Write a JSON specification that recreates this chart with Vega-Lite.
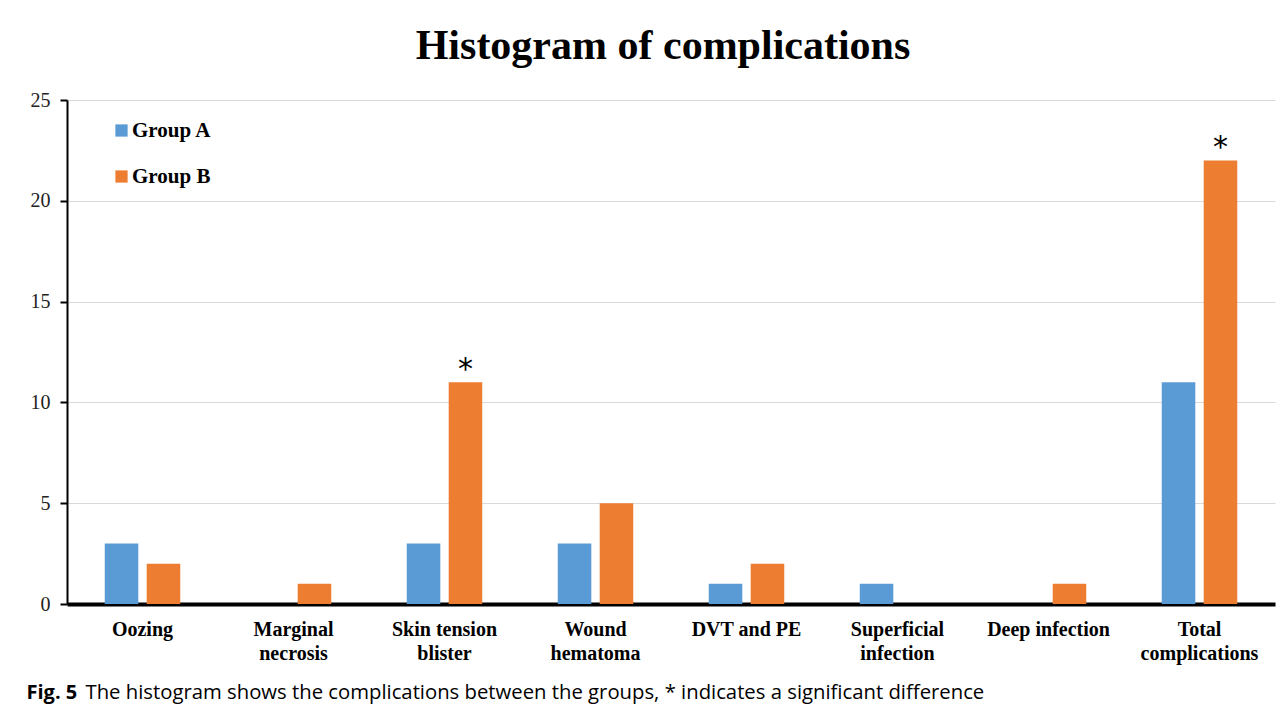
{
  "$schema": "https://vega.github.io/schema/vega-lite/v6.json",
  "width": 1208,
  "height": 504,
  "autosize": {"type": "none"},
  "padding": {"left": 67, "top": 100, "right": 8, "bottom": 104},
  "background": "white",
  "title": {
    "text": "Histogram of complications",
    "font": "Liberation Serif",
    "fontSize": 42,
    "fontWeight": "bold",
    "color": "#000000",
    "anchor": "middle",
    "baseline": "alphabetic",
    "offset": 42,
    "dy": 53,
    "dx": -8
  },
  "datasets": {
    "bars": [
      {"complication": "Oozing", "group": "Group A", "count": 3},
      {"complication": "Oozing", "group": "Group B", "count": 2},
      {"complication": "Marginal necrosis", "group": "Group A", "count": 0},
      {"complication": "Marginal necrosis", "group": "Group B", "count": 1},
      {"complication": "Skin tension blister", "group": "Group A", "count": 3},
      {"complication": "Skin tension blister", "group": "Group B", "count": 11},
      {"complication": "Wound hematoma", "group": "Group A", "count": 3},
      {"complication": "Wound hematoma", "group": "Group B", "count": 5},
      {"complication": "DVT and PE", "group": "Group A", "count": 1},
      {"complication": "DVT and PE", "group": "Group B", "count": 2},
      {"complication": "Superficial infection", "group": "Group A", "count": 1},
      {"complication": "Superficial infection", "group": "Group B", "count": 0},
      {"complication": "Deep infection", "group": "Group A", "count": 0},
      {"complication": "Deep infection", "group": "Group B", "count": 1},
      {"complication": "Total complications", "group": "Group A", "count": 11},
      {"complication": "Total complications", "group": "Group B", "count": 22}
    ],
    "stars": [
      {"complication": "Skin tension blister", "group": "Group B", "count": 11, "mark": "*"},
      {"complication": "Total complications", "group": "Group B", "count": 22, "mark": "*"}
    ]
  },
  "config": {
    "view": {"stroke": null}
  },
  "layer": [
    {
      "data": {"name": "bars"},
      "mark": {"type": "bar"},
      "encoding": {
        "x": {
          "field": "complication",
          "type": "nominal",
          "scale": {
            "domain": ["Oozing", "Marginal necrosis", "Skin tension blister", "Wound hematoma", "DVT and PE", "Superficial infection", "Deep infection", "Total complications"],
            "paddingInner": 0.5,
            "paddingOuter": 0.25
          },
          "axis": {
            "orient": "bottom",
            "labelAngle": 0,
            "labelFont": "Liberation Serif",
            "labelFontSize": 20,
            "labelFontWeight": "bold",
            "labelColor": "#000000",
            "labelLineHeight": 24,
            "labelPadding": 31,
            "labelBaseline": "alphabetic",
            "labelExpr": "datum.label == 'Marginal necrosis' ? ['Marginal', 'necrosis'] : datum.label == 'Skin tension blister' ? ['Skin tension', 'blister'] : datum.label == 'Wound hematoma' ? ['Wound', 'hematoma'] : datum.label == 'Superficial infection' ? ['Superficial', 'infection'] : datum.label == 'Total complications' ? ['Total', 'complications'] : datum.label",
            "ticks": false,
            "tickSize": 0,
            "domainColor": "#000000",
            "domainWidth": 4,
            "grid": false,
            "title": "Fig. 5",
            "titleFont": "Open Sans",
            "titleFontSize": 20,
            "titleFontWeight": "bold",
            "titleColor": "#000000",
            "titleAngle": 0,
            "titleAlign": "left",
            "titleBaseline": "alphabetic",
            "titleAnchor": "start",
            "titleX": -41,
            "titleY": 94
          }
        },
        "xOffset": {
          "field": "group",
          "type": "nominal",
          "scale": {"domain": ["Group A", "Group B"], "paddingInner": 0.2, "paddingOuter": 0}
        },
        "y": {
          "field": "count",
          "type": "quantitative",
          "scale": {"domain": [0, 25], "nice": false},
          "axis": {
            "values": [0, 5, 10, 15, 20, 25],
            "labelFont": "Liberation Serif",
            "labelFontSize": 20,
            "labelColor": "#222222",
            "labelPadding": 10,
            "tickSize": 7,
            "tickColor": "#000000",
            "tickWidth": 2,
            "domainColor": "#000000",
            "domainWidth": 2,
            "gridColor": "#d9d9d9",
            "gridWidth": 1,
            "title": null
          }
        },
        "color": {
          "field": "group",
          "type": "nominal",
          "scale": {"domain": ["Group A", "Group B"], "range": ["#5B9BD5", "#ED7D31"]},
          "legend": {
            "orient": "none",
            "legendX": 44,
            "legendY": 20,
            "title": null,
            "labelFont": "Liberation Serif",
            "labelFontSize": 21,
            "labelFontWeight": "bold",
            "labelColor": "#000000",
            "labelOffset": 0,
            "symbolType": "square",
            "symbolSize": 150,
            "symbolStrokeWidth": 0,
            "rowPadding": 24
          }
        }
      }
    },
    {
      "data": {"name": "stars"},
      "mark": {"type": "text", "font": "DejaVu Sans", "fontSize": 30, "baseline": "alphabetic", "dy": -3, "color": "#000000"},
      "encoding": {
        "x": {
          "field": "complication",
          "type": "nominal",
          "scale": {
            "domain": ["Oozing", "Marginal necrosis", "Skin tension blister", "Wound hematoma", "DVT and PE", "Superficial infection", "Deep infection", "Total complications"]
          },
          "axis": {
            "orient": "bottom",
            "labels": false,
            "ticks": false,
            "domain": false,
            "grid": false,
            "title": "The histogram shows the complications between the groups, * indicates a significant difference",
            "titleFont": "Open Sans",
            "titleFontSize": 20.3,
            "titleFontWeight": "normal",
            "titleColor": "#000000",
            "titleAngle": 0,
            "titleAlign": "left",
            "titleBaseline": "alphabetic",
            "titleAnchor": "start",
            "titleX": 18,
            "titleY": 94
          }
        },
        "xOffset": {"field": "group", "type": "nominal", "scale": {"domain": ["Group A", "Group B"]}},
        "y": {"field": "count", "type": "quantitative"},
        "text": {"field": "mark"}
      }
    }
  ],
  "resolve": {"axis": {"x": "independent"}}
}
